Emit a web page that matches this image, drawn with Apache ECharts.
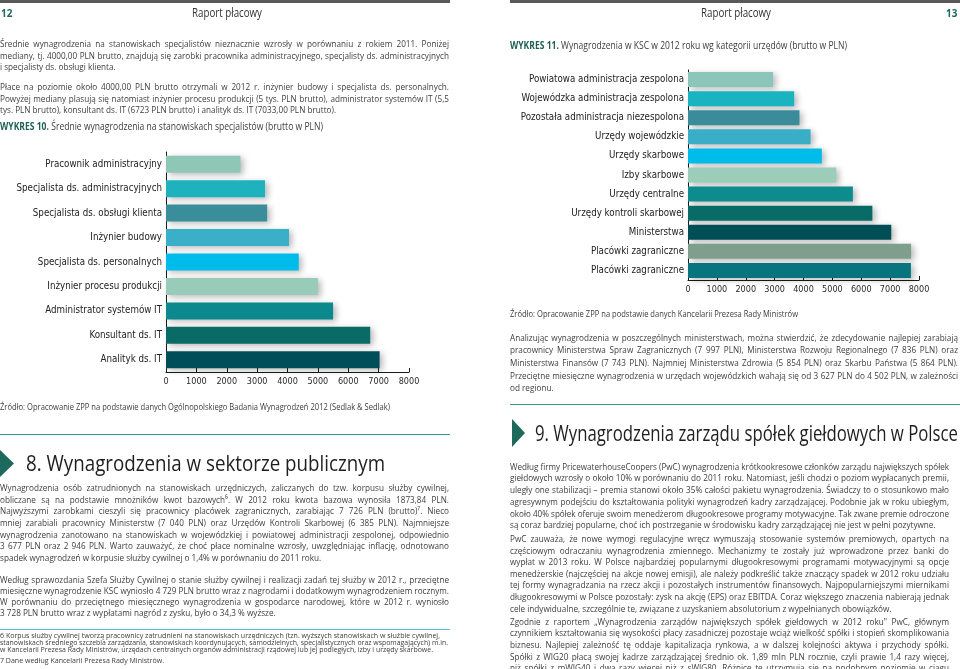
<!DOCTYPE html>
<html><head><meta charset="utf-8">
<script src="https://cdn.jsdelivr.net/npm/echarts@6/dist/echarts.min.js"></script>
<style>
html,body{margin:0;padding:0;background:#fff;}
#page{position:relative;width:960px;height:669px;overflow:hidden;background:#fff;}
#chart{position:absolute;left:0;top:0;width:960px;height:669px;}
.t{position:absolute;white-space:nowrap;font-family:'Open Sans',sans-serif;color:#3d3d3d;transform-origin:0 50%;}
.rule{position:absolute;}
.tri{position:absolute;background:#1d6a5c;clip-path:polygon(0 0,100% 50%,0 100%);}
</style></head>
<body><div id="page"><div id="chart"></div></div>
<script>
// ---------------- DATA ----------------
const cats10 = ['Pracownik administracyjny','Specjalista ds. administracyjnych','Specjalista ds. obsługi klienta','Inżynier budowy','Specjalista ds. personalnych','Inżynier procesu produkcji','Administrator systemów IT','Konsultant ds. IT','Analityk ds. IT'];
const vals10 = [2450, 3260, 3330, 4050, 4370, 5000, 5500, 6723, 7033];
const colors10 = ['#8fc7b7','#1eb2bf','#3a8d9b','#3aafc8','#00bcea','#98cbb8','#0b898c','#0a6a65','#004e5a'];

const cats11 = ['Powiatowa administracja zespolona','Wojewódzka administracja zespolona','Pozostała administracja niezespolona','Urzędy wojewódzkie','Urzędy skarbowe','Izby skarbowe','Urzędy centralne','Urzędy kontroli skarbowej','Ministerstwa','Placówki zagraniczne','Placówki zagraniczne'];
const vals11 = [2946, 3677, 3860, 4245, 4635, 5135, 5710, 6385, 7040, 7726, 7720];
const colors11 = ['#8cc6bb','#1ab3c0','#3a8c9b','#39aec6','#00bcea','#9ccdb9','#0d8b8d','#096b65','#004e55','#7e9f8e','#08757e'];

const xMin = 0, xMax = 8000, xStep = 1000;

// ---------------- TEXT ----------------
const P1 = ['Średnie wynagrodzenia na stanowiskach specjalistów nieznacznie wzrosły w porównaniu z rokiem 2011. Poniżej',
 'mediany, tj. 4000,00 PLN brutto, znajdują się zarobki pracownika administracyjnego, specjalisty ds. administracyjnych',
 'i specjalisty ds. obsługi klienta.'];
const P2 = ['Płace na poziomie około 4000,00 PLN brutto otrzymali w 2012 r. inżynier budowy i specjalista ds. personalnych.',
 'Powyżej mediany plasują się natomiast inżynier procesu produkcji (5 tys. PLN brutto), administrator systemów IT (5,5',
 'tys. PLN brutto), konsultant ds. IT (6723 PLN brutto) i analityk ds. IT (7033,00 PLN brutto).'];
const P3 = ['Wynagrodzenia osób zatrudnionych na stanowiskach urzędniczych, zaliczanych do tzw. korpusu służby cywilnej,',
 'obliczane są na podstawie mnożników kwot bazowych⁶. W 2012 roku kwota bazowa wynosiła 1873,84 PLN.',
 'Najwyższymi zarobkami cieszyli się pracownicy placówek zagranicznych, zarabiając 7 726 PLN (brutto)⁷. Nieco',
 'mniej zarabiali pracownicy Ministerstw (7 040 PLN) oraz Urzędów Kontroli Skarbowej (6 385 PLN). Najmniejsze',
 'wynagrodzenia zanotowano na stanowiskach w wojewódzkiej i powiatowej administracji zespolonej, odpowiednio',
 '3 677 PLN oraz 2 946 PLN. Warto zauważyć, że choć płace nominalne wzrosły, uwzględniając inflację, odnotowano',
 'spadek wynagrodzeń w korpusie służby cywilnej o 1,4% w porównaniu do 2011 roku.'];
const P4 = ['Według sprawozdania Szefa Służby Cywilnej o stanie służby cywilnej i realizacji zadań tej służby w 2012 r., przeciętne',
 'miesięczne wynagrodzenie KSC wyniosło 4 729 PLN brutto wraz z nagrodami i dodatkowym wynagrodzeniem rocznym.',
 'W porównaniu do przeciętnego miesięcznego wynagrodzenia w gospodarce narodowej, które w 2012 r. wyniosło',
 '3 728 PLN brutto wraz z wypłatami nagród z zysku, było o 34,3 % wyższe.'];
const FN = ['6   Korpus służby cywilnej tworzą pracownicy zatrudnieni na stanowiskach urzędniczych (tzn. wyższych stanowiskach w służbie cywilnej,',
 'stanowiskach średniego szczebla zarządzania, stanowiskach koordynujących, samodzielnych, specjalistycznych oraz wspomagających) m.in.',
 'w Kancelarii Prezesa Rady Ministrów, urzędach centralnych organów administracji rządowej lub jej podległych, izby i urzędy skarbowe.',
 '7   Dane według Kancelarii Prezesa Rady Ministrów.'];
const R1 = ['Analizując wynagrodzenia w poszczególnych ministerstwach, można stwierdzić, że zdecydowanie najlepiej zarabiają',
 'pracownicy Ministerstwa Spraw Zagranicznych (7 997 PLN), Ministerstwa Rozwoju Regionalnego (7 836 PLN) oraz',
 'Ministerstwa Finansów (7 743 PLN). Najmniej Ministerstwa Zdrowia (5 854 PLN) oraz Skarbu Państwa (5 864 PLN).',
 'Przeciętne miesięczne wynagrodzenia w urzędach wojewódzkich wahają się od 3 627 PLN do 4 502 PLN, w zależności',
 'od regionu.'];
const R2 = ['Według firmy PricewaterhouseCoopers (PwC) wynagrodzenia krótkookresowe członków zarządu największych spółek',
 'giełdowych wzrosły o około 10% w porównaniu do 2011 roku. Natomiast, jeśli chodzi o poziom wypłacanych premii,',
 'uległy one stabilizacji – premia stanowi około 35% całości pakietu wynagrodzenia. Świadczy to o stosunkowo mało',
 'agresywnym podejściu do kształtowania polityki wynagrodzeń kadry zarządzającej. Podobnie jak w roku ubiegłym,',
 'około 40% spółek oferuje swoim menedżerom długookresowe programy motywacyjne. Tak zwane premie odroczone',
 'są coraz bardziej popularne, choć ich postrzeganie w środowisku kadry zarządzającej nie jest w pełni pozytywne.'];
const R3 = ['PwC zauważa, że nowe wymogi regulacyjne wręcz wymuszają stosowanie systemów premiowych, opartych na',
 'częściowym odraczaniu wynagrodzenia zmiennego. Mechanizmy te zostały już wprowadzone przez banki do',
 'wypłat w 2013 roku. W Polsce najbardziej popularnymi długookresowymi programami motywacyjnymi są opcje',
 'menedżerskie (najczęściej na akcje nowej emisji), ale należy podkreślić także znaczący spadek w 2012 roku udziału',
 'tej formy wynagradzania na rzecz akcji i pozostałych instrumentów finansowych. Najpopularniejszymi miernikami',
 'długookresowymi w Polsce pozostały: zysk na akcję (EPS) oraz EBITDA. Coraz większego znaczenia nabierają jednak',
 'cele indywidualne, szczególnie te, związane z uzyskaniem absolutorium z wypełnianych obowiązków.'];
const R4 = ['Zgodnie z raportem „Wynagrodzenia zarządów największych spółek giełdowych w 2012 roku" PwC, głównym',
 'czynnikiem kształtowania się wysokości płacy zasadniczej pozostaje wciąż wielkość spółki i stopień skomplikowania',
 'biznesu. Najlepiej zależność tę oddaje kapitalizacja rynkowa, a w dalszej kolejności aktywa i przychody spółki.',
 'Spółki z WIG20 płacą swojej kadrze zarządzającej średnio ok. 1,89 mln PLN rocznie, czyli prawie 1,4 razy więcej,',
 'niż spółki z mWIG40 i dwa razy więcej niż z sWIG80. Różnice te utrzymują się na podobnym poziomie w ciągu'];

const page = document.getElementById('page');
function line(html, x, yc, w, o) {
  o = o || {};
  const fs = o.fs || 9.5, lh = fs * 1.3;
  const d = document.createElement('div');
  d.className = 't';
  d.style.left = x + 'px';
  d.style.top = (yc - lh / 2) + 'px';
  d.style.fontSize = fs + 'px';
  d.style.lineHeight = lh + 'px';
  if (o.color) d.style.color = o.color;
  if (o.weight) d.style.fontWeight = o.weight;
  d.innerHTML = html;
  page.appendChild(d);
  const nat = d.getBoundingClientRect().width;
  const sx = o.sx || 0.86;
  let scale = sx;
  if (o.mode === 'fit') {
    scale = w / nat;
  } else if (o.mode === 'justify') {
    const sp = (d.textContent.match(/ /g) || []).length;
    if (nat * sx < w && sp) {
      d.style.wordSpacing = ((w / sx - nat) / sp) + 'px';
    } else scale = w / nat;
  } else {
    if (nat * sx > w) scale = w / nat;
  }
  if (o.center) d.style.left = (o.center - nat * scale / 2) + 'px';
  d.style.transform = 'scaleX(' + scale + ')';
  return d;
}
function para(lines, x, w, ys, o) {
  lines.forEach((t, i) => {
    const last = i === lines.length - 1 && !(o && o.justifyLast);
    line(t, x, ys[i], w, Object.assign({}, o, {mode: last ? 'left' : 'justify'}));
  });
}
function rule(x, y, w, h, c) {
  const d = document.createElement('div'); d.className = 'rule';
  Object.assign(d.style, {left: x + 'px', top: y + 'px', width: w + 'px', height: h + 'px', background: c});
  page.appendChild(d);
}
function tri(x, y, w, h) {
  const d = document.createElement('div'); d.className = 'tri';
  Object.assign(d.style, {left: x + 'px', top: y + 'px', width: w + 'px', height: h + 'px'});
  page.appendChild(d);
}

// headers
rule(0, 0, 450, 3, '#595959');
rule(510, 0, 450, 3, '#595959');
line('12', 1, 13, 16, {fs: 11, weight: 700, color: '#1d6a5c', mode: 'left', sx: 0.9});
line('13', 946, 13, 16, {fs: 11, weight: 700, color: '#1d6a5c', mode: 'left', sx: 0.9});
line('Raport płacowy', 0, 13, 70, {fs: 12, color: '#333', mode: 'fit', center: 227});
line('Raport płacowy', 0, 13, 70, {fs: 12, color: '#333', mode: 'fit', center: 736});

// left page
para(P1, 0, 449, [44, 55.8, 67.5]);
para(P2, 0, 449, [87.3, 98.8, 110.3]);
line('<b style="color:#1d5f55">WYKRES 10.</b> Średnie wynagrodzenia na stanowiskach specjalistów (brutto w PLN)', 0, 126.5, 323, {fs: 10, mode: 'fit'});
line('Źródło: Opracowanie ZPP na podstawie danych Ogólnopolskiego Badania Wynagrodzeń 2012 (Sedlak &amp; Sedlak)', 0, 406.7, 390, {fs: 8.5, mode: 'fit'});
rule(0, 434, 450, 1, '#3a9490');
tri(0, 450, 14, 27);
line('8. Wynagrodzenia w sektorze publicznym', 26, 463.5, 359, {fs: 21, color: '#1e1e1e', mode: 'fit'});
para(P3, 0, 449, [488.3, 500, 511.6, 523.2, 534.7, 546.2, 557.7]);
para(P4, 0, 449, [580, 591.3, 602.4, 613.5]);
rule(0, 629, 450, 1, '#5bbbe0');
[440, 448, 433, 164].forEach((w, i) => line(FN[i], 0, [635.5, 642.6, 650, 660.5][i], w, {fs: 7, mode: 'fit'}));

// right page
line('<b style="color:#1d5f55">WYKRES 11.</b> Wynagrodzenia w KSC w 2012 roku wg kategorii urzędów (brutto w PLN)', 510, 45.7, 337, {fs: 10, mode: 'fit'});
line('Źródło: Opracowanie ZPP na podstawie danych Kancelarii Prezesa Rady Ministrów', 510, 313.3, 288, {fs: 8.5, mode: 'fit'});
para(R1, 510, 448, [337.7, 350.3, 363, 375.7, 388.5]);
rule(510, 404, 450, 1, '#3a9490');
tri(512, 419, 13, 28);
line('9. Wynagrodzenia zarządu spółek giełdowych w Polsce', 535, 433.5, 423, {fs: 21, color: '#1e1e1e', mode: 'fit'});
para(R2, 510, 439, [466.7, 478.5, 490.2, 502, 513.7, 525.3]);
para(R3, 510, 439, [539.3, 550.8, 562.4, 574, 585.6, 597.2, 608.8]);
para(R4, 510, 439, [621.7, 633.3, 645, 656.7, 668.3], {justifyLast: true});

// ---------------- CHART ----------------
function has(f) {
  const c = document.createElement('canvas').getContext('2d');
  const s = 'abcdefghijklmnopqrstuvwxyz ABCDEFG 0123456789';
  c.font = '20px monospace'; const a = c.measureText(s).width;
  c.font = "20px '" + f + "', monospace"; return c.measureText(s).width !== a;
}
let lf = {family: 'Roboto', size: 10.0, tick: 9.2};
if (has('Liberation Sans Narrow')) lf = {family: 'Liberation Sans Narrow', size: 11.6, tick: 10.2};
else if (has('DejaVu Sans Condensed')) lf = {family: 'DejaVu Sans Condensed', size: 9.7, tick: 9};

const chart = echarts.init(document.getElementById('chart'), null, {renderer: 'canvas'});
function xAx(gi) {
  return {type: 'value', gridIndex: gi, min: xMin, max: xMax, interval: xStep,
    splitLine: {show: false},
    axisLine: {show: true, lineStyle: {color: '#1a1a1a', width: 1}},
    axisTick: {show: true, inside: true, length: 4, lineStyle: {color: '#1a1a1a'}},
    axisLabel: {fontFamily: lf.family, fontSize: lf.tick, color: '#2a2a2a', margin: 5,
      formatter: v => String(v)}};
}
function yAx(gi, cats) {
  return {type: 'category', gridIndex: gi, data: cats, inverse: true,
    axisLine: {show: true, lineStyle: {color: '#1a1a1a', width: 1}},
    axisTick: {show: false},
    axisLabel: {fontFamily: lf.family, fontSize: lf.size, color: '#222', margin: 4}};
}
const shadow = {shadowBlur: 6, shadowColor: 'rgba(0,0,0,0.28)', shadowOffsetX: 3, shadowOffsetY: 2};
chart.setOption({
  animation: false,
  grid: [
    {left: 166, top: 152, width: 243, height: 220, containLabel: false},
    {left: 688, top: 70, width: 231, height: 210, containLabel: false}
  ],
  xAxis: [xAx(0), xAx(1)],
  yAxis: [yAx(0, cats10), yAx(1, cats11)],
  series: [
    {type: 'bar', xAxisIndex: 0, yAxisIndex: 0, barWidth: 17,
     data: vals10.map((v, i) => ({value: v, itemStyle: Object.assign({color: colors10[i]}, shadow)}))},
    {type: 'bar', xAxisIndex: 1, yAxisIndex: 1, barWidth: 15,
     data: vals11.map((v, i) => ({value: v, itemStyle: Object.assign({color: colors11[i]}, shadow)}))}
  ]
});
</script>
</body></html>
